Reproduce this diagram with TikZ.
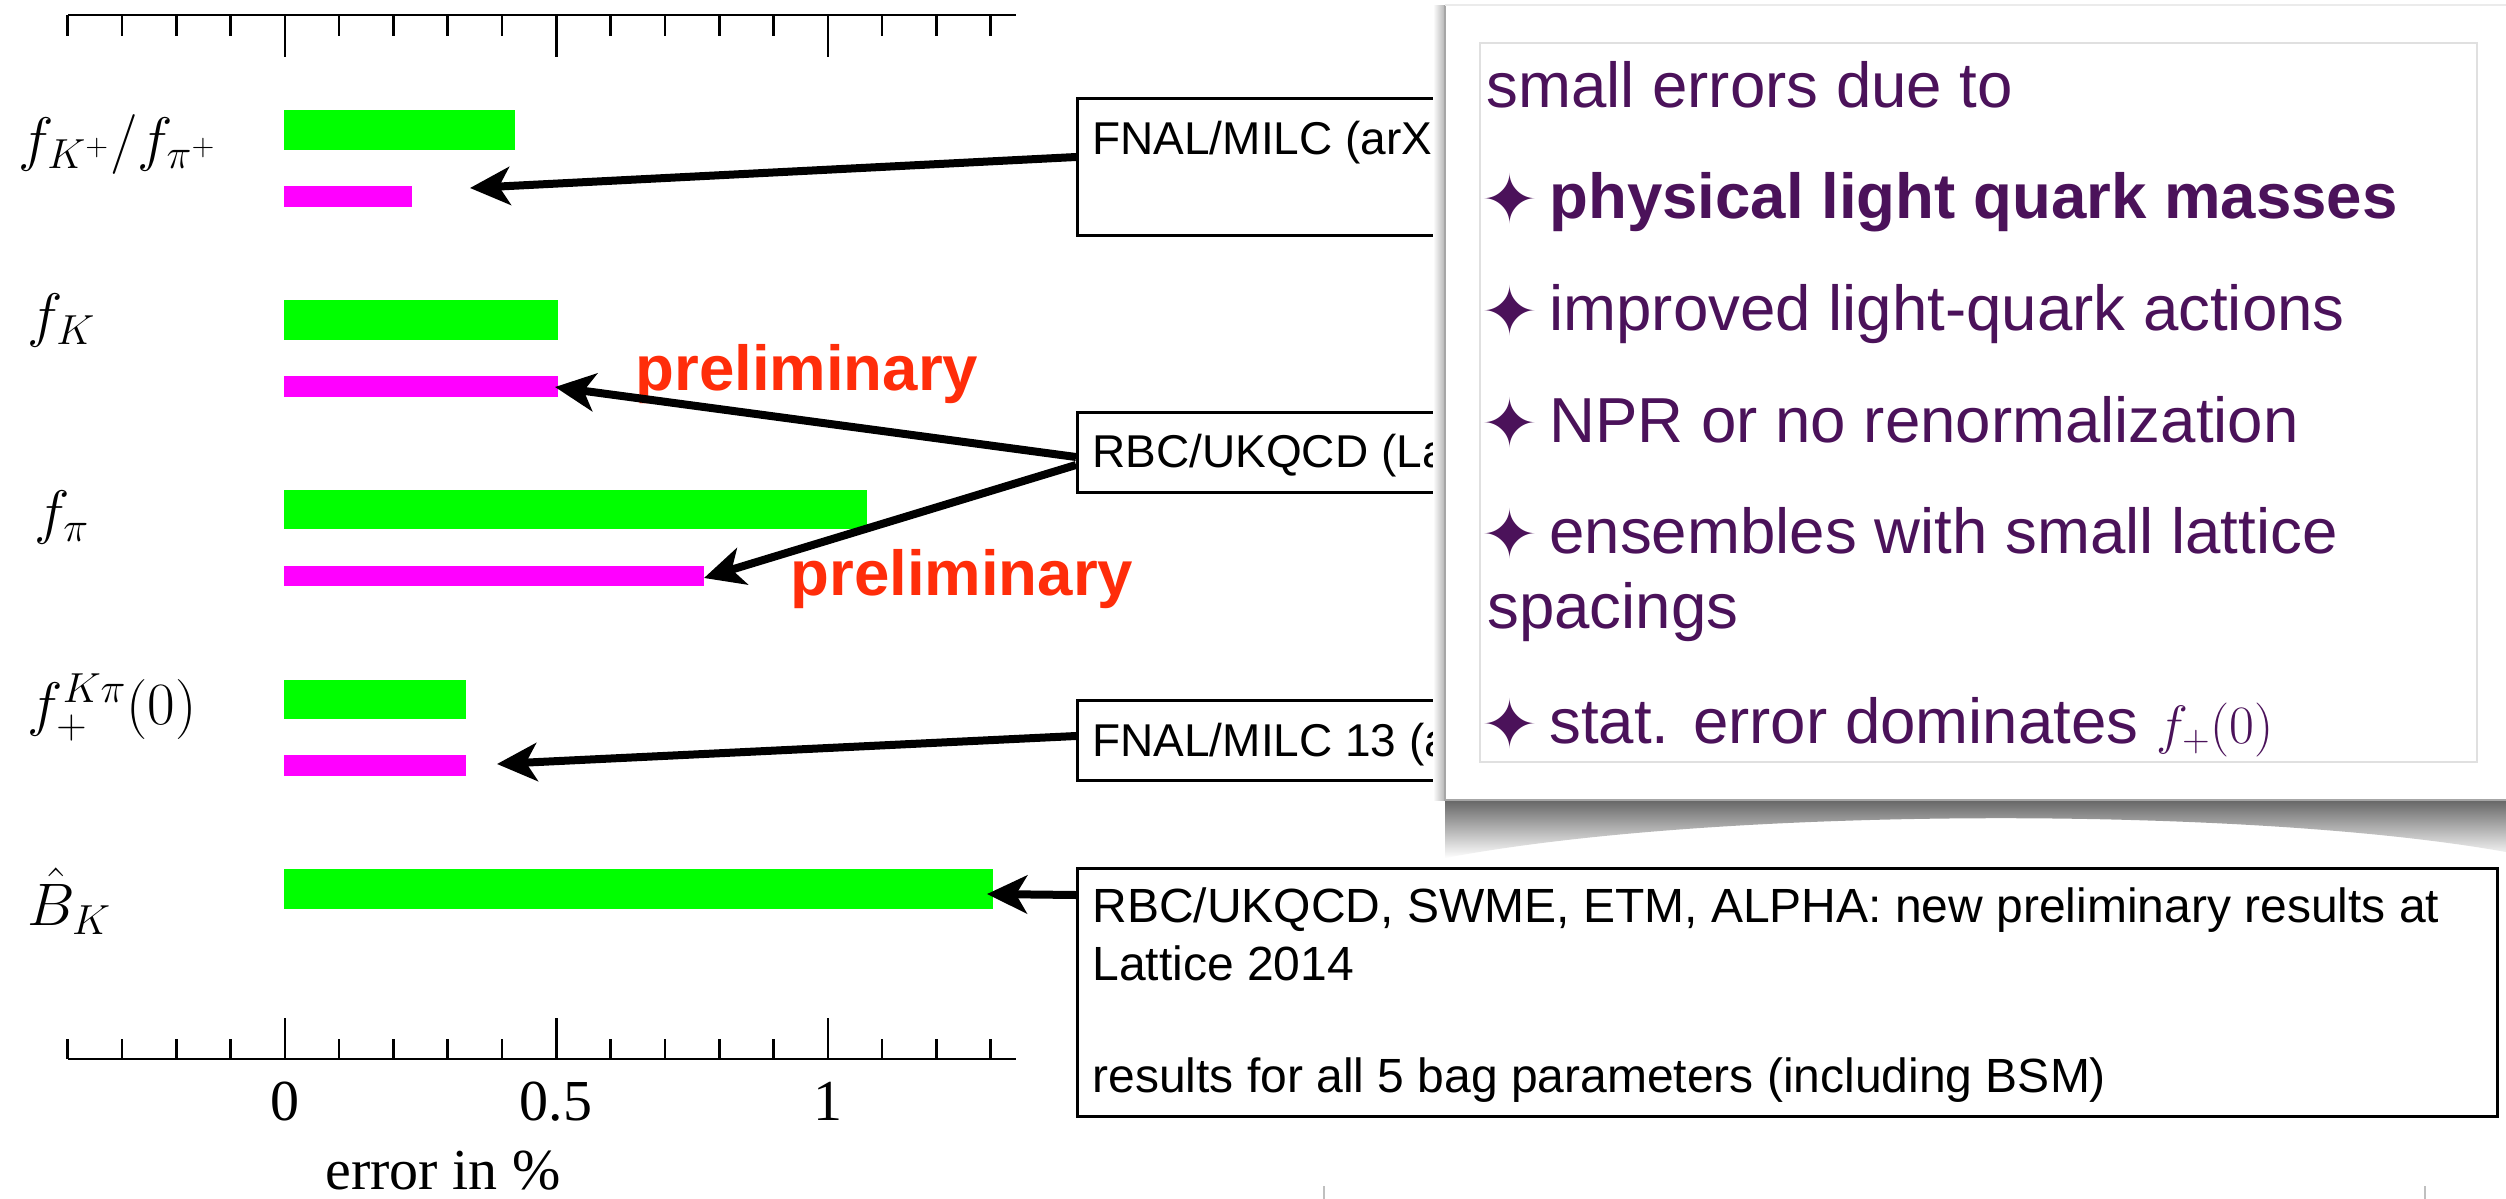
\RequirePackage{fix-cm}
\documentclass[tikz,border=0pt]{standalone}
\usepackage{fontspec}
\setmainfont{Liberation Serif}
\setsansfont{Liberation Sans}
\newfontfamily\djv{DejaVu Sans}
\usetikzlibrary{arrows.meta}
\definecolor{barG}{RGB}{0,255,0}
\definecolor{barM}{RGB}{255,0,255}
\definecolor{prelred}{RGB}{255,45,10}
\definecolor{panelpurple}{RGB}{75,18,90}
\begin{document}
\begin{tikzpicture}[x=0.5pt,y=-0.5pt,
  axisline/.style={line width=1.4pt},
  tickline/.style={line width=1.3pt},
  arr/.style={line width=4pt,-{Stealth[length=20pt,width=19pt,inset=5.5pt]}},
  mlabel/.style={font=\fontsize{30}{36}\selectfont, inner sep=0pt, anchor=base west},
  ticklabel/.style={font=\fontsize{29}{34}\selectfont, inner sep=0pt, anchor=base},
  boxframe/.style={draw, line width=1.4pt, fill=white, inner sep=0pt, anchor=north west},
  boxtext/.style={font=\sffamily\fontsize{24}{29}\selectfont, inner sep=0pt, anchor=base west},
  cuttext/.style={font=\sffamily\fontsize{23}{28}\selectfont, inner sep=0pt, anchor=base west},
  prel/.style={font=\sffamily\bfseries\fontsize{31.8}{38}\selectfont, text=prelred, inner sep=0pt, anchor=base west},
  ptext/.style={font=\sffamily\fontsize{31.8}{38}\selectfont, text=panelpurple, inner sep=0pt, anchor=base west},
  bulstar/.style={font=\djv\fontsize{34}{40}\selectfont, text=panelpurple, inner sep=0pt, anchor=center}
]
\useasboundingbox (0,0) rectangle (2506,1199);
\fill[white] (0,0) rectangle (2506,1199);

% ---------- axes ----------
\draw[axisline] (68,15) -- (1016,15);
\draw[axisline] (68,1059) -- (1016,1059);
\foreach \i in {-4,...,13}{
  \draw[tickline] ({284.8+54.3*\i},15) -- ++(0,21);
  \draw[tickline] ({284.8+54.3*\i},1059) -- ++(0,-20);
}
\foreach \i in {0,5,10}{
  \draw[tickline] ({284.8+54.3*\i},15) -- ++(0,42);
  \draw[tickline] ({284.8+54.3*\i},1059) -- ++(0,-41);
}
\node[ticklabel] (t0) at (285,1120) {0};
\node[ticklabel] (t05) at (556,1120) {0.5};
\node[ticklabel] (t1) at (828,1120) {1};
\node[ticklabel] (xlab) at (443,1189) {error in \%};

% ---------- row labels ----------
\node[mlabel] (l1) at (18,159) {$f_{K^+}/f_{\pi^+}$};
\node[mlabel] (l2) at (27,335) {$f_K$};
\node[mlabel] (l3) at (34,532) {$f_\pi$};
\node[mlabel] (l4) at (27,724) {$f_+^{K\pi}(0)$};
\node[mlabel] (l5) at (27,925) {$\hat{B}_K$};

% ---------- bars ----------
\fill[barG] (284,110) rectangle (515,150);
\fill[barM] (284,186) rectangle (412,207);
\fill[barG] (284,300) rectangle (558,340);
\fill[barM] (284,376) rectangle (558,397);
\fill[barG] (284,490) rectangle (867,529);
\fill[barM] (284,566) rectangle (704,586);
\fill[barG] (284,680) rectangle (466,719);
\fill[barM] (284,755) rectangle (466,776);
\fill[barG] (284,869) rectangle (993,909);

% ---------- preliminary labels ----------
\node[prel] (p1) at (635,390) {preliminary};
\node[prel] (p2) at (790,595) {preliminary};

% ---------- reference boxes ----------
\node[boxframe, minimum width=500pt, minimum height=68.5pt] (fnal) at (1076,97) {};
\node[cuttext] (fnaltxt) at (1092,154) {FNAL/MILC (arX};
\node[boxframe, minimum width=500pt, minimum height=40pt] (rbc) at (1076,411) {};
\node[cuttext] (rbctxt) at (1092,467) {RBC/UKQCD (La};
\node[boxframe, minimum width=500pt, minimum height=40pt] (fnalb) at (1076,699) {};
\node[cuttext] (fnalbtxt) at (1092,756) {FNAL/MILC 13 (a};
\node[boxframe, minimum width=710pt, minimum height=124pt] (bk) at (1076,867) {};
\node[boxtext] (bk1) at (1092,922) {RBC/UKQCD, SWME, ETM, ALPHA: new preliminary results at};
\node[boxtext] (bk2) at (1092,980) {Lattice 2014};
\node[boxtext] (bk3) at (1092,1092) {results for all 5 bag parameters (including BSM)};

% ---------- arrows ----------
\coordinate (a1s) at (1076,157);  \coordinate (a1e) at (470,188);
\coordinate (a2s) at (1076,457);  \coordinate (a2e) at (555,387);
\coordinate (a3s) at (1076,465);  \coordinate (a3e) at (704,578);
\coordinate (a4s) at (1076,736);  \coordinate (a4e) at (497,764);
\coordinate (a5s) at (1076,895);  \coordinate (a5e) at (987,894);
\draw[arr] (a1s) -- (a1e);
\draw[arr] (a2s) -- (a2e);
\draw[arr] (a3s) -- (a3e);
\draw[arr] (a4s) -- (a4e);
\draw[arr] (a5s) -- (a5e);

% ---------- overlay panel ----------
\shade[left color=white, right color=black!30] (1433,5) rectangle (1445,800);
\shade[top color=black!60, bottom color=white]
  (1445,800) -- (2506,800) -- (2506,852)
  .. controls (2250,806) and (1720,806) .. (1445,858) -- cycle;
\fill[white] (1445,5) rectangle (2506,800);
\draw[black!35, line width=0.8pt] (1445,5) -- (1445,800) -- (2506,800);
\draw[black!8, line width=0.6pt] (1445,5) -- (2506,5);
\draw[black!12, line width=0.8pt, fill=white] (1480,43) rectangle (2477,762);

\node[ptext] (h0) at (1486,107) {small errors due to};
\node[bulstar] (s1) at (1510,199) {✦};
\node[ptext, font=\sffamily\bfseries\fontsize{31.8}{38}\selectfont] (h1) at (1549,218) {physical light quark masses};
\node[bulstar] (s2) at (1510,311) {✦};
\node[ptext] (h2) at (1549,330) {improved light-quark actions};
\node[bulstar] (s3) at (1510,423) {✦};
\node[ptext] (h3) at (1549,442) {NPR or no renormalization};
\node[bulstar] (s4) at (1510,534) {✦};
\node[ptext] (h4) at (1549,553) {ensembles with small lattice};
\node[ptext] (h5) at (1487,628) {spacings};
\node[bulstar] (s6) at (1510,724) {✦};
\node[ptext] (h6) at (1549,743) {stat. error dominates {\fontsize{27}{32}\selectfont$f_{+}(0)$}};

% ---------- faint edges at the bottom ----------
\draw[black!25, line width=1pt] (1324,1186) -- (1324,1199);
\draw[black!25, line width=1pt] (2425,1186) -- (2425,1199);
\end{tikzpicture}
\end{document}
